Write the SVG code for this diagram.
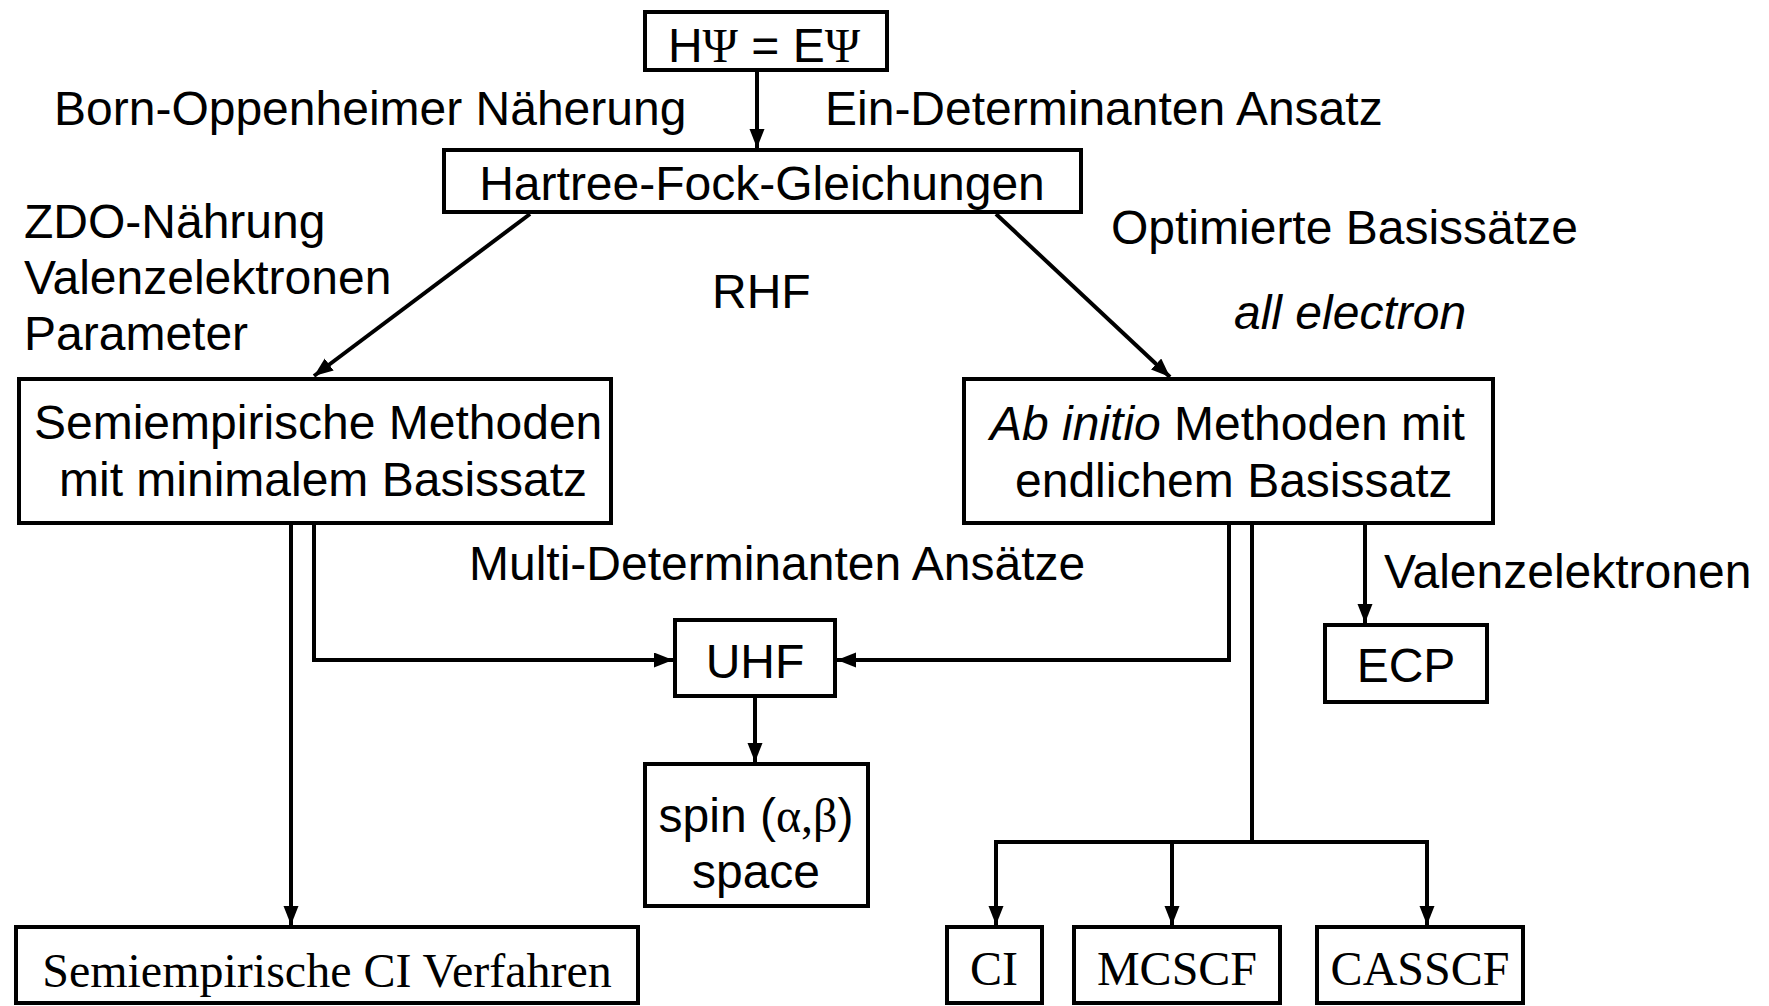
<svg xmlns="http://www.w3.org/2000/svg" width="1769" height="1006" viewBox="0 0 1769 1006">
<style>
.box{fill:#fff;stroke:#000;stroke-width:4}
.t{font-family:"Liberation Sans",Arial,sans-serif;font-size:48px;fill:#000}
.s{font-family:"Liberation Serif","Times New Roman",serif;font-size:48px;fill:#000}
.c{fill:none;stroke:#000;stroke-width:4}
</style>
<defs>
<marker id="ah" markerUnits="userSpaceOnUse" markerWidth="22" markerHeight="16" refX="19" refY="7.5" orient="auto">
<path d="M0,0 L19,7.5 L0,15 z" fill="#000"/>
</marker>
</defs>
<rect width="1769" height="1006" fill="#fff"/>
<g id="connectors">
<line class="c" x1="757" y1="72" x2="757" y2="148" marker-end="url(#ah)"/>
<line class="c" x1="530" y1="214" x2="314" y2="376" marker-end="url(#ah)"/>
<line class="c" x1="996" y1="214" x2="1170" y2="377" marker-end="url(#ah)"/>
<line class="c" x1="291" y1="525" x2="291" y2="925" marker-end="url(#ah)"/>
<polyline class="c" points="314,525 314,660 673,660" marker-end="url(#ah)"/>
<polyline class="c" points="1229,525 1229,660 837,660" marker-end="url(#ah)"/>
<line class="c" x1="755" y1="698" x2="755" y2="762" marker-end="url(#ah)"/>
<line class="c" x1="1365" y1="525" x2="1365" y2="623" marker-end="url(#ah)"/>
<line class="c" x1="1252" y1="525" x2="1252" y2="842"/>
<line class="c" x1="994" y1="842" x2="1429" y2="842"/>
<line class="c" x1="996" y1="842" x2="996" y2="925" marker-end="url(#ah)"/>
<line class="c" x1="1172" y1="842" x2="1172" y2="925" marker-end="url(#ah)"/>
<line class="c" x1="1427" y1="842" x2="1427" y2="925" marker-end="url(#ah)"/>
</g>
<g id="labels">
<text class="t" x="54" y="125">Born-Oppenheimer Näherung</text>
<text class="t" x="825" y="125">Ein-Determinanten Ansatz</text>
<text class="t" x="24" y="238">ZDO-Nährung</text>
<text class="t" x="24" y="294">Valenzelektronen</text>
<text class="t" x="24" y="350">Parameter</text>
<text class="t" x="712" y="308">RHF</text>
<text class="t" x="1111" y="244">Optimierte Basissätze</text>
<text class="t" x="1234" y="329" font-style="italic">all electron</text>
<text class="t" x="469" y="580">Multi-Determinanten Ansätze</text>
<text class="t" x="1384" y="588">Valenzelektronen</text>
</g>
<g id="n_schroedinger">
<rect class="box" x="645" y="12" width="242" height="58"/>
<text class="t" x="764" y="62" text-anchor="middle">H<tspan font-family="Liberation Serif, serif">Ψ</tspan> = E<tspan font-family="Liberation Serif, serif">Ψ</tspan></text>
</g>
<g id="n_hf">
<rect class="box" x="444" y="150" width="637" height="62"/>
<text class="t" x="762" y="200" text-anchor="middle">Hartree-Fock-Gleichungen</text>
</g>
<g id="n_semi">
<rect class="box" x="19" y="379" width="592" height="144"/>
<text class="t" x="34" y="439">Semiempirische Methoden</text>
<text class="t" x="59" y="496">mit minimalem Basissatz</text>
</g>
<g id="n_abinitio">
<rect class="box" x="964" y="379" width="529" height="144"/>
<text class="t" x="990" y="440"><tspan font-style="italic">Ab initio</tspan> Methoden mit</text>
<text class="t" x="1015" y="497">endlichem Basissatz</text>
</g>
<g id="n_uhf">
<rect class="box" x="675" y="620" width="160" height="76"/>
<text class="t" x="755" y="678" text-anchor="middle">UHF</text>
</g>
<g id="n_spin">
<rect class="box" x="645" y="764" width="223" height="142"/>
<text class="t" x="756" y="832" text-anchor="middle">spin (<tspan font-family="Liberation Serif, serif">α,β</tspan>)</text>
<text class="t" x="756" y="888" text-anchor="middle">space</text>
</g>
<g id="n_ecp">
<rect class="box" x="1325" y="625" width="162" height="77"/>
<text class="t" x="1406" y="682" text-anchor="middle">ECP</text>
</g>
<g id="n_semici">
<rect class="box" x="16" y="927" width="622" height="76"/>
<text class="s" x="327" y="987" text-anchor="middle">Semiempirische CI Verfahren</text>
</g>
<g id="n_ci">
<rect class="box" x="947" y="927" width="95" height="76"/>
<text class="s" x="994" y="985" text-anchor="middle">CI</text>
</g>
<g id="n_mcscf">
<rect class="box" x="1074" y="927" width="206" height="76"/>
<text class="s" x="1177" y="985" text-anchor="middle">MCSCF</text>
</g>
<g id="n_casscf">
<rect class="box" x="1317" y="927" width="206" height="76"/>
<text class="s" x="1420" y="985" text-anchor="middle">CASSCF</text>
</g>
</svg>
